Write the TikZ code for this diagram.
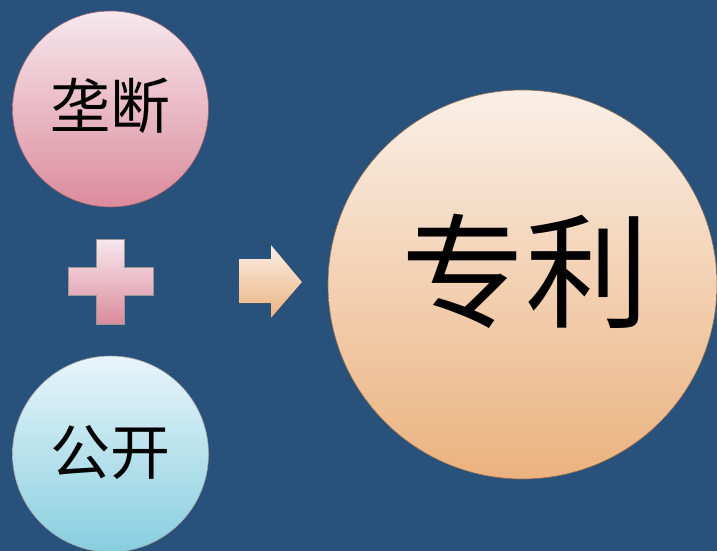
\documentclass[tikz,border=0pt]{standalone}
\usepackage{fontspec}
\newfontfamily\cjk{Noto Sans CJK SC}
\usetikzlibrary{positioning, calc}

\definecolor{bgblue}{HTML}{28517C}
\definecolor{pinktop}{HTML}{F7E8EE}
\definecolor{pinkbot}{HTML}{DB8B9D}
\definecolor{bluetop}{HTML}{E8F5FA}
\definecolor{bluebot}{HTML}{88CEDF}
\definecolor{peachtop}{HTML}{FAEFE6}
\definecolor{peachbot}{HTML}{EBB27F}

\begin{document}
\begin{tikzpicture}[x=1pt,y=-1pt]
        \tikzset{
            ball/.style={circle, inner sep=0pt, line width=0.6pt},
            word/.style={inner sep=0pt, text=black}
        }
        % the background
        \fill[bgblue] (0,0) rectangle (717,551);
        \useasboundingbox (0,0) rectangle (717,551);

        % the circles
        \node[ball, minimum size=196pt, draw=pinkbot!70!black,
              top color=pinktop, bottom color=pinkbot] (mono) at (110.5,109) {};
        \node[ball, minimum size=196pt, draw=gray!70,
              top color=bluetop, bottom color=bluebot] (open) at (110.5,454) {};
        \node[ball, minimum size=389pt, draw=peachbot!60!black,
              top color=peachtop, bottom color=peachbot] (patent) at (522.5,284.5) {};

        % the texts
        \node[word, font=\cjk\fontsize{60}{60}\selectfont] (monotext) at ($ (mono) + (0,-3) $) {垄断};
        \node[word, font=\cjk\fontsize{60}{60}\selectfont] (opentext) at ($ (open) + (0,-2) $) {公开};
        \node[word, font=\cjk\fontsize{124}{124}\selectfont] (patenttext) at ($ (patent) + (3,-13) $) {专利};

        % plus sign
        \coordinate (P) at (110.5,281.5);
        \draw[gray!80, line width=0.5pt, top color=pinktop, bottom color=pinkbot]
            ($ (P) + (-14,-42.5) $) -- ($ (P) + (14,-42.5) $) -- ($ (P) + (14,-14) $)
            -- ($ (P) + (42.5,-14) $) -- ($ (P) + (42.5,14) $) -- ($ (P) + (14,14) $)
            -- ($ (P) + (14,42.5) $) -- ($ (P) + (-14,42.5) $) -- ($ (P) + (-14,14) $)
            -- ($ (P) + (-42.5,14) $) -- ($ (P) + (-42.5,-14) $) -- ($ (P) + (-14,-14) $) -- cycle;

        % arrow
        \coordinate (tip) at (302,282);
        \fill[top color=peachtop, bottom color=peachbot]
            (239,259) -- (271,259) -- (271,245) -- (tip) -- (271,318)
            -- (271,303) -- (239,303) -- cycle;
    \end{tikzpicture}
\end{document}
